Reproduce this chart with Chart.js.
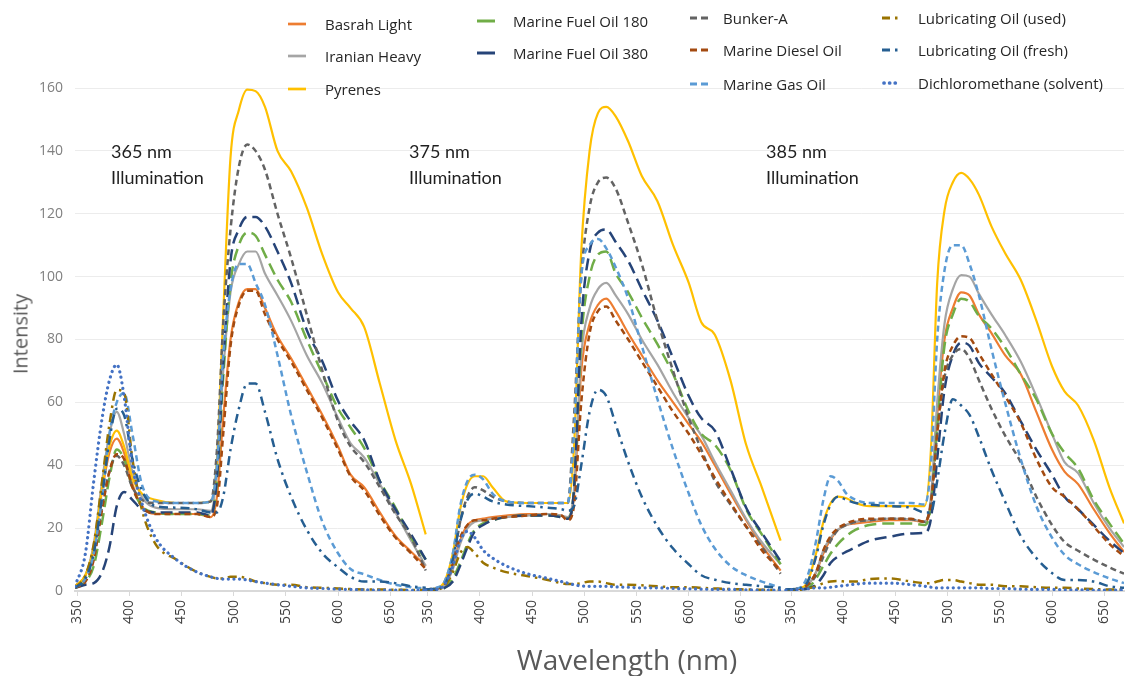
<!DOCTYPE html>
<html>
<head>
<meta charset="utf-8">
<script src="https://cdn.jsdelivr.net/npm/chart.js@4/dist/chart.umd.min.js"></script>
<style>
  body { margin: 0; background: #fff; }
  #wrap { position: relative; width: 1125px; height: 676px; overflow: hidden; }
  #myChart { position: absolute; left: 0; top: 0; }
  .lg { position: absolute; font-family: "Open Sans", sans-serif; font-size: 15px; color: #262626; line-height: 20px; white-space: nowrap; }
  .sw { position: absolute; }
  .note { position: absolute; font-family: Lato, sans-serif; font-size: 18px; color: #1f1f1f; line-height: 26px; }
  .axt { position: absolute; font-family: "Open Sans", sans-serif; color: #595959; white-space: nowrap; }
</style>
</head>
<body>
<div id="wrap">
  <canvas id="myChart" width="1125" height="676"></canvas>
</div>
<script>
// wavelength grids of the three excitation panels (nm)
const nm365 = [348, 358, 366, 374, 381, 388, 395, 403, 412, 425, 445, 465, 478, 484, 490, 497, 505, 513, 521, 530, 542, 555, 570, 585, 600, 612, 625, 640, 655, 670, 684];
const nm375 = [348, 358, 366, 374, 381, 388, 395, 403, 412, 425, 445, 465, 478, 484, 490, 497, 505, 513, 521, 530, 542, 555, 570, 585, 600, 612, 625, 640, 655, 670, 688];
const nm385 = [345, 358, 366, 374, 381, 388, 395, 403, 412, 425, 445, 465, 478, 484, 490, 497, 505, 513, 521, 530, 542, 555, 570, 585, 600, 612, 625, 640, 655, 669];

const tickNm = [350, 400, 450, 500, 550, 600, 650];
const panelNames = ['365 nm', '375 nm', '385 nm'];

const seriesNames = [
  'Basrah Light', 'Iranian Heavy', 'Pyrenes',
  'Marine Fuel Oil 180', 'Marine Fuel Oil 380',
  'Bunker-A', 'Marine Diesel Oil', 'Marine Gas Oil',
  'Lubricating Oil (used)', 'Lubricating Oil (fresh)', 'Dichloromethane (solvent)'
];

// 365 nm illumination
const basrah365   = [1.5, 5, 14, 32, 44, 48.5, 44, 34, 27, 24.5, 24.5, 24.5, 23.5, 30, 55, 80, 92, 96, 96, 90, 81, 74, 65, 56, 46, 37, 33, 25, 17.5, 12.5, 8];
const iranian365  = [1.5, 5, 15, 35, 50, 57, 50, 38, 30, 26.5, 26, 26, 25.5, 38, 70, 95, 104, 108, 108, 101, 94, 86, 75, 66, 55, 47, 42.5, 34, 25, 16, 8];
const pyrenes365  = [1.5, 5, 14, 33, 46, 51, 46, 36, 31, 29, 28, 28, 28.5, 42, 88, 138, 153, 159.5, 159, 154, 140, 133.5, 122, 107, 95, 90, 84, 66, 48, 34, 18];
const mfo180_365  = [1, 3, 8, 22, 36, 45, 42, 33, 27, 25, 24.5, 24.5, 24, 35, 68, 98, 110, 114, 113, 107, 99, 92, 80, 69, 58, 52, 45.5, 35, 26.5, 17, 10];
const mfo380_365  = [1, 2, 2.5, 6, 14, 27, 31.5, 29, 26, 25, 25, 25, 24, 36, 72, 105, 115, 119, 119, 116, 108, 98, 83, 73, 60.5, 54, 48, 35, 26, 18, 10];
const bunker365   = [1, 4, 12, 27, 38, 43, 40, 33, 29, 28, 28, 28, 28.5, 45, 85, 115, 135, 142, 140, 134, 120, 106, 88, 70, 54, 46, 41, 33, 24.5, 17, 6.5];
const mdo365      = [1, 3, 10, 26, 38, 43.5, 42, 33, 27, 24.5, 24.5, 24.5, 23.5, 27, 50, 78, 91, 95.5, 95.5, 88, 80, 73, 64, 55, 45, 36.5, 32, 24, 17, 12, 7];
const mgo365      = [1, 4, 12, 30, 50, 60, 63, 50, 34, 28.5, 28, 28, 28.5, 40, 75, 96, 104, 104, 98, 91, 75, 56, 38, 22, 12, 7, 5.3, 3.5, 2, 1.2, 0.8];
const lubUsed365  = [1, 5, 15, 35, 53, 64, 63, 42, 26, 15, 10, 6, 4.5, 4, 4, 4.5, 4.5, 4, 3, 2.5, 2, 2, 1.2, 1, 0.8, 0.6, 0.5, 0.5, 0.4, 0.3, 0.3];
const lubFresh365 = [1, 4, 12, 30, 48, 58, 56, 42, 32, 27, 26.5, 26, 25, 25, 30, 45, 58, 66, 66, 57, 42, 30, 19.5, 12, 7.5, 4.5, 3, 3, 2.5, 1.5, 1];
const dcm365      = [1.5, 12, 35, 55, 67, 72, 62, 40, 28, 17, 10, 6, 4.5, 4, 3.8, 3.8, 3.8, 3.5, 3, 2.5, 2, 1.5, 1, 0.8, 0.6, 0.5, 0.4, 0.3, 0.3, 0.2, 0.2];

// 375 nm illumination
const basrah375   = [0.5, 0.8, 2, 8, 16, 21, 22.5, 23, 23.5, 24, 24.5, 24.5, 24, 23, 30, 70, 85, 91, 93, 89, 82, 75, 67, 60, 53, 47.5, 40, 31, 22.5, 14.5, 6.5];
const iranian375  = [0.5, 0.8, 2, 7, 15, 20, 22, 22.5, 23, 23.5, 24, 24.5, 24, 23.5, 32, 75, 90, 96, 98, 94, 88, 80, 72, 63, 55, 49.5, 41, 32, 23, 15.5, 8.5];
const pyrenes375  = [0.5, 0.8, 3, 12, 26, 34, 36.5, 36.5, 33, 28.5, 28, 28, 28, 28, 45, 108, 140, 152, 154, 151, 143, 132, 124, 110, 98, 85.5, 81.5, 67, 46.5, 33, 16];
const mfo180_375  = [0.3, 0.5, 1, 4, 9, 15, 19.5, 21.5, 22.5, 23.5, 24, 24, 23.5, 23, 32, 80, 100, 107, 108, 101, 95, 87, 78.5, 69, 57, 50, 46.5, 38.5, 26, 18, 8.5];
const mfo380_375  = [0.3, 0.5, 1, 3, 8, 14, 19, 21, 22.5, 23.5, 24, 24, 23.5, 23, 32, 85, 108, 114, 115, 111, 105, 96, 86, 74, 62, 55, 51, 39, 26.5, 18.5, 9.5];
const bunker375   = [0.5, 0.8, 2, 9, 22, 30, 33, 32, 30, 28.5, 28, 28, 28, 28, 55, 100, 122, 130, 131.5, 128, 117, 104, 86, 70, 55, 45, 35, 27.5, 20.5, 14, 5.5];
const mdo375      = [0.5, 0.8, 2, 9, 17, 21, 22.5, 22.5, 23, 23.5, 24, 24.5, 24, 22.5, 27, 60, 82, 89, 90.5, 86, 80, 73, 65, 57, 50, 43.5, 36, 28, 20.5, 13, 6.5];
const mgo375      = [0.5, 1, 3, 12, 27, 35, 37, 35.5, 31, 28.5, 28, 28, 28, 28, 50, 100, 110, 112, 109, 103, 93, 78, 61, 45, 31, 21, 13.5, 8, 5, 3, 1];
const lubUsed375  = [0.3, 0.5, 1.5, 6, 12, 14, 12, 9, 7.5, 6, 4.8, 3.5, 2.5, 2.2, 2.2, 2.5, 3, 3, 2.5, 2, 2, 1.8, 1.5, 1.2, 1.2, 1, 0.8, 0.6, 0.5, 0.4, 0.3];
const lubFresh375 = [0.5, 0.8, 2, 10, 22, 29, 31, 30, 28.5, 27.5, 27, 26.5, 26, 25.5, 27, 40, 57, 64, 62, 53, 41, 30, 20.5, 13.5, 8.5, 5, 3.6, 2.5, 2, 1.5, 1];
const dcm375      = [0.3, 0.5, 2, 8, 16, 19, 17, 13, 10.5, 8, 5.5, 4, 3, 2.5, 2, 1.6, 1.5, 1.5, 1.5, 1.3, 1.2, 1, 1, 0.8, 0.7, 0.6, 0.5, 0.5, 0.4, 0.3, 0.3];

// 385 nm illumination
const basrah385   = [0.5, 0.8, 2, 6, 12, 16.5, 19.5, 21, 21.5, 22, 22.5, 22.5, 22, 28, 56, 80, 90, 95, 94, 88, 82, 75, 69, 57, 45, 38, 34, 26, 18.5, 12.4];
const iranian385  = [0.5, 0.8, 2, 6, 13, 17, 19.5, 21, 22, 22.5, 23, 22.8, 22, 30, 60, 85, 96, 100.5, 100, 94.5, 88, 81.5, 73, 62, 50, 41, 37.5, 28, 20, 14];
const pyrenes385  = [0.5, 0.8, 3, 12, 22, 28, 30, 29.5, 28, 27, 27, 27, 27, 45, 98, 121, 130, 133, 131, 126, 116, 107.5, 99, 86, 71.5, 63.5, 59, 48, 33, 21.5];
const mfo180_385  = [0.3, 0.5, 1, 4, 8, 12, 15, 17.5, 19.5, 21, 21.5, 21.5, 21, 27, 52, 78, 88, 93, 92, 87.5, 83.5, 77.5, 69, 61, 50, 44, 39, 29, 21.5, 15];
const mfo380_385  = [0.3, 0.5, 0.8, 2, 5, 9, 11, 12.5, 14, 16, 17.3, 18.3, 18.5, 23, 42, 64, 75, 79, 78, 72.5, 68, 63, 54, 45, 37, 30, 26, 21, 16, 12];
const bunker385   = [0.5, 0.8, 2, 5, 11, 16, 19.5, 21, 22, 22.5, 23, 22.8, 22, 28, 50, 68, 75, 77, 74, 67, 58, 49.5, 41, 30, 21, 15.6, 12.8, 10, 7.5, 5.5];
const mdo385      = [0.5, 0.8, 2, 6, 13, 17.5, 20, 21.5, 22.5, 23, 23, 23, 22, 28, 50, 70, 78, 81, 80.5, 75.5, 69, 62, 53.5, 42, 33, 30, 26, 20.5, 15, 11];
const mgo385      = [0.5, 1, 5, 16, 29, 36.5, 35, 31, 29, 28, 28, 28, 27.5, 40, 80, 102, 110, 110, 104, 94, 77, 60, 42, 27, 17, 11.5, 8.5, 6, 4, 2.5];
const lubUsed385  = [0.2, 0.3, 0.8, 1.5, 2.5, 3, 3.2, 3, 3, 3.8, 4, 3, 2.5, 2.5, 3, 3.5, 3.5, 3, 2.5, 2, 2, 1.5, 1.5, 1.2, 1, 1, 0.8, 0.6, 0.5, 0.5];
const lubFresh385 = [0.5, 0.8, 3, 11, 21, 27.5, 30, 29, 28, 27.5, 27, 26.5, 25, 25, 35, 50, 61, 59, 56, 49, 38.5, 28.5, 17.5, 10.5, 5.7, 3.5, 3.5, 3, 1.5, 1];
const dcm385      = [0.3, 0.5, 0.7, 1, 1, 1.2, 1.5, 1.8, 2.2, 2.5, 2.5, 2, 1.5, 1.2, 1, 1, 1, 1, 1, 1, 0.8, 0.8, 0.6, 0.5, 0.5, 0.4, 0.4, 0.3, 0.3, 0.3];

const seriesValues = [
  [basrah365, basrah375, basrah385],
  [iranian365, iranian375, iranian385],
  [pyrenes365, pyrenes375, pyrenes385],
  [mfo180_365, mfo180_375, mfo180_385],
  [mfo380_365, mfo380_375, mfo380_385],
  [bunker365, bunker375, bunker385],
  [mdo365, mdo375, mdo385],
  [mgo365, mgo375, mgo385],
  [lubUsed365, lubUsed375, lubUsed385],
  [lubFresh365, lubFresh375, lubFresh385],
  [dcm365, dcm375, dcm385]
];

// look of each series (Excel-like); legend dash is the sample in the key
const seriesStyle = [
  { color: '#ED7D31', dash: [], key: [], width: 2.2 },
  { color: '#A5A5A5', dash: [], key: [], width: 2.2 },
  { color: '#FFC000', dash: [], key: [], width: 2.2 },
  { color: '#70AD47', dash: [12, 6], key: [], width: 2.5 },
  { color: '#264478', dash: [12, 6], key: [], width: 2.5 },
  { color: '#636363', dash: [6, 4], key: [7, 4], width: 2.5 },
  { color: '#A34A10', dash: [6, 4], key: [7, 4], width: 2.5 },
  { color: '#5B9BD5', dash: [6, 4], key: [7, 4], width: 2.5 },
  { color: '#997300', dash: [9, 5, 2.5, 5], key: [8, 5, 2.5, 5], width: 2.5 },
  { color: '#255E91', dash: [9, 5, 2.5, 5], key: [8, 5, 2.5, 5], width: 2.5 },
  { color: '#4472C4', dash: [0.1, 5.5], key: [0.1, 5.5], width: 3.2, cap: 'round' }
];

// the three panels sit side by side on one continuous axis
const grids = [nm365, nm375, nm385];
const offsets = [0, 336, 684];
const gapAt = [684.5, 1026];

function track(vals) {
  const pts = [];
  grids.forEach((g, p) => {
    g.forEach((w, i) => pts.push({ x: w + offsets[p], y: vals[p][i] }));
    if (p < 2) pts.push({ x: gapAt[p], y: null });
  });
  return pts;
}

const datasets = seriesNames.map((name, i) => ({
  label: name,
  data: track(seriesValues[i]),
  borderColor: seriesStyle[i].color,
  backgroundColor: seriesStyle[i].color,
  borderWidth: seriesStyle[i].width,
  borderDash: seriesStyle[i].dash,
  borderCapStyle: seriesStyle[i].cap || 'butt',
  fill: false,
  spanGaps: false,
  order: seriesNames.length - i
}));

const tickPos = [];
const tickText = {};
offsets.forEach(o => tickNm.forEach(w => { tickPos.push(w + o); tickText[w + o] = String(w); }));

const config = {
  type: 'line',
  data: { datasets: datasets },
  options: {
    responsive: false,
    animation: false,
    layout: { padding: { top: 88, right: 0, bottom: 0, left: 0 } },
    plugins: { legend: { display: false }, tooltip: { enabled: false } },
    elements: {
      point: { radius: 0 },
      line: { tension: 0.4, cubicInterpolationMode: 'monotone' }
    },
    scales: {
      x: {
        type: 'linear',
        min: 348,
        max: 1353,
        afterBuildTicks: s => { s.ticks = tickPos.map(v => ({ value: v })); },
        afterFit: s => { s.height = 85; },
        ticks: {
          autoSkip: false,
          minRotation: 90,
          maxRotation: 90,
          padding: 4,
          color: '#404040',
          font: { family: 'Open Sans', size: 14 },
          callback: v => tickText[v]
        },
        grid: { drawOnChartArea: false, tickLength: 5, color: '#d9d9d9' },
        border: { color: '#d9d9d9', width: 2 }
      },
      y: {
        min: 0,
        max: 160,
        afterFit: s => { s.width = 75; },
        ticks: {
          stepSize: 20,
          padding: 12,
          color: '#808080',
          font: { family: 'Open Sans', size: 14 }
        },
        grid: { color: '#ececec', drawTicks: false },
        border: { display: false }
      }
    }
  }
};

const myChart = new Chart(document.getElementById('myChart'), config);

// legend and notes as positioned text
const wrap = document.getElementById('wrap');
const legendSpots = [
  [288, 325, 24], [288, 325, 56], [288, 325, 89],
  [477, 513, 21], [477, 513, 53],
  [690, 723, 18], [690, 723, 50], [690, 723, 84],
  [882, 918, 18], [882, 918, 50], [882, 918, 83]
];
seriesNames.forEach((name, i) => {
  const [lx, tx, cy] = legendSpots[i];
  const st = seriesStyle[i];
  const sw = document.createElementNS('http://www.w3.org/2000/svg', 'svg');
  sw.setAttribute('class', 'sw');
  sw.setAttribute('width', '22');
  sw.setAttribute('height', '8');
  sw.style.left = lx + 'px';
  sw.style.top = (cy - 4) + 'px';
  const ln = document.createElementNS('http://www.w3.org/2000/svg', 'line');
  ln.setAttribute('x1', st.cap ? '2' : '0');
  ln.setAttribute('x2', '18');
  ln.setAttribute('y1', '4');
  ln.setAttribute('y2', '4');
  ln.setAttribute('stroke', st.color);
  ln.setAttribute('stroke-width', st.width + 0.5);
  if (st.cap) ln.setAttribute('stroke-linecap', 'round');
  if (st.key.length) ln.setAttribute('stroke-dasharray', st.key.join(' '));
  sw.appendChild(ln);
  wrap.appendChild(sw);
  const t = document.createElement('div');
  t.className = 'lg';
  t.style.left = tx + 'px';
  t.style.top = (cy - 10) + 'px';
  t.textContent = name;
  wrap.appendChild(t);
});

const noteLeft = [111, 409, 766];
panelNames.forEach((p, i) => {
  const d = document.createElement('div');
  d.className = 'note';
  d.style.left = noteLeft[i] + 'px';
  d.style.top = '138px';
  d.innerHTML = p + '<br>Illumination';
  wrap.appendChild(d);
});

const yt = document.createElement('div');
yt.className = 'axt';
yt.style.fontSize = '20px';
yt.style.left = '20px';
yt.style.top = '334px';
yt.style.transform = 'translate(-50%, -50%) rotate(-90deg)';
yt.textContent = 'Intensity';
wrap.appendChild(yt);

const xt = document.createElement('div');
xt.className = 'axt';
xt.style.fontSize = '28px';
xt.style.left = '627px';
xt.style.top = '659px';
xt.style.transform = 'translate(-50%, -50%)';
xt.textContent = 'Wavelength (nm)';
wrap.appendChild(xt);
</script>
</body>
</html>
